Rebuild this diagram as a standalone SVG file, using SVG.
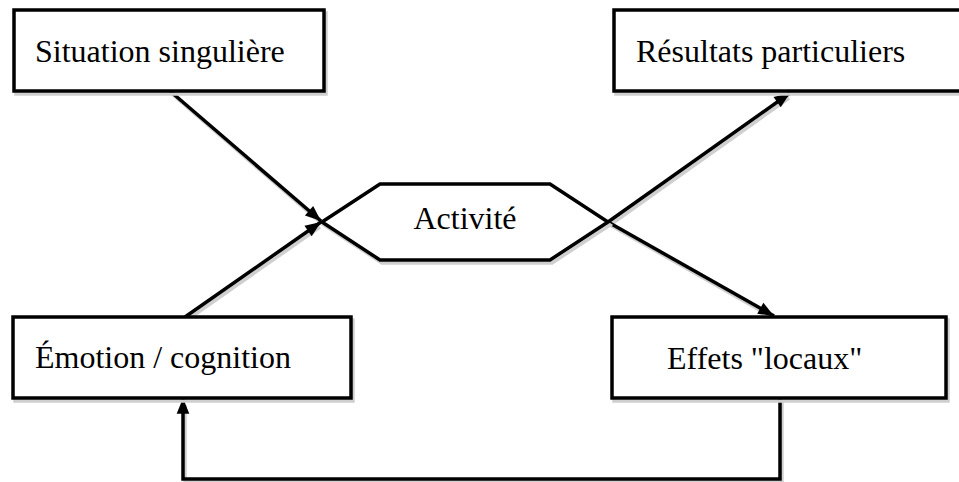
<svg xmlns="http://www.w3.org/2000/svg" width="959" height="482" viewBox="0 0 959 482">
<style>
.box{fill:#fff;stroke:#000;stroke-width:3.5}
.sh{fill:none;stroke:#cfcfcf;stroke-width:3.5}
.lbl{font-family:"Liberation Serif","Times New Roman",serif;font-size:32px;fill:#000}
.ln{fill:none;stroke:#000;stroke-width:3.5}
.lsh{fill:none;stroke:#cfcfcf;stroke-width:3.5}
</style>
<defs>
<marker id="ah" markerWidth="5" markerHeight="5" refX="4.5" refY="2.5" orient="auto" markerUnits="strokeWidth" overflow="visible">
<path d="M0,0.7 L4.5,2.5 L0,4.3 z" fill="#000"/>
</marker>
</defs>
<rect width="959" height="482" fill="#fff"/>
<g id="connectors">
<g transform="translate(2,3)">
<line class="lsh" x1="170" y1="91" x2="318" y2="219"/>
<line class="lsh" x1="185" y1="317" x2="318" y2="224"/>
<line class="lsh" x1="608" y1="222" x2="787" y2="95"/>
<line class="lsh" x1="608" y1="222" x2="770" y2="314"/>
<polyline class="lsh" points="780,398 780,479 183,479 183,402"/>
</g>
<line class="ln" x1="170" y1="91" x2="321" y2="221" marker-end="url(#ah)"/>
<line class="ln" x1="185" y1="317" x2="321" y2="222" marker-end="url(#ah)"/>
<line class="ln" x1="608" y1="222" x2="790" y2="93" marker-end="url(#ah)"/>
<line class="ln" x1="608" y1="222" x2="774" y2="316" marker-end="url(#ah)"/>
<polyline class="ln" points="780,398 780,479 183,479 183,398" marker-end="url(#ah)"/>
</g>
<g id="situation">
<rect class="sh" x="16" y="13" width="310" height="81"/>
<rect class="box" x="14" y="10" width="310" height="81"/>
<text class="lbl" x="35" y="62">Situation singulière</text>
</g>
<g id="resultats">
<rect class="sh" x="616" y="13" width="350" height="81"/>
<rect class="box" x="614" y="10" width="350" height="81"/>
<text class="lbl" x="636" y="62">Résultats particuliers</text>
</g>
<g id="activite">
<polygon class="sh" points="324,225 382,187 552,187 610,225 552,263 382,263"/>
<polygon class="box" points="322,222 380,184 550,184 608,222 550,260 380,260"/>
<text class="lbl" x="465" y="229" text-anchor="middle">Activité</text>
</g>
<g id="emotion">
<rect class="sh" x="15" y="320" width="338" height="81"/>
<rect class="box" x="13" y="317" width="338" height="81"/>
<text class="lbl" x="35" y="368">Émotion / cognition</text>
</g>
<g id="effets">
<rect class="sh" x="614" y="320" width="334" height="81"/>
<rect class="box" x="612" y="317" width="334" height="81"/>
<text class="lbl" x="667" y="369">Effets "locaux"</text>
</g>
</svg>
